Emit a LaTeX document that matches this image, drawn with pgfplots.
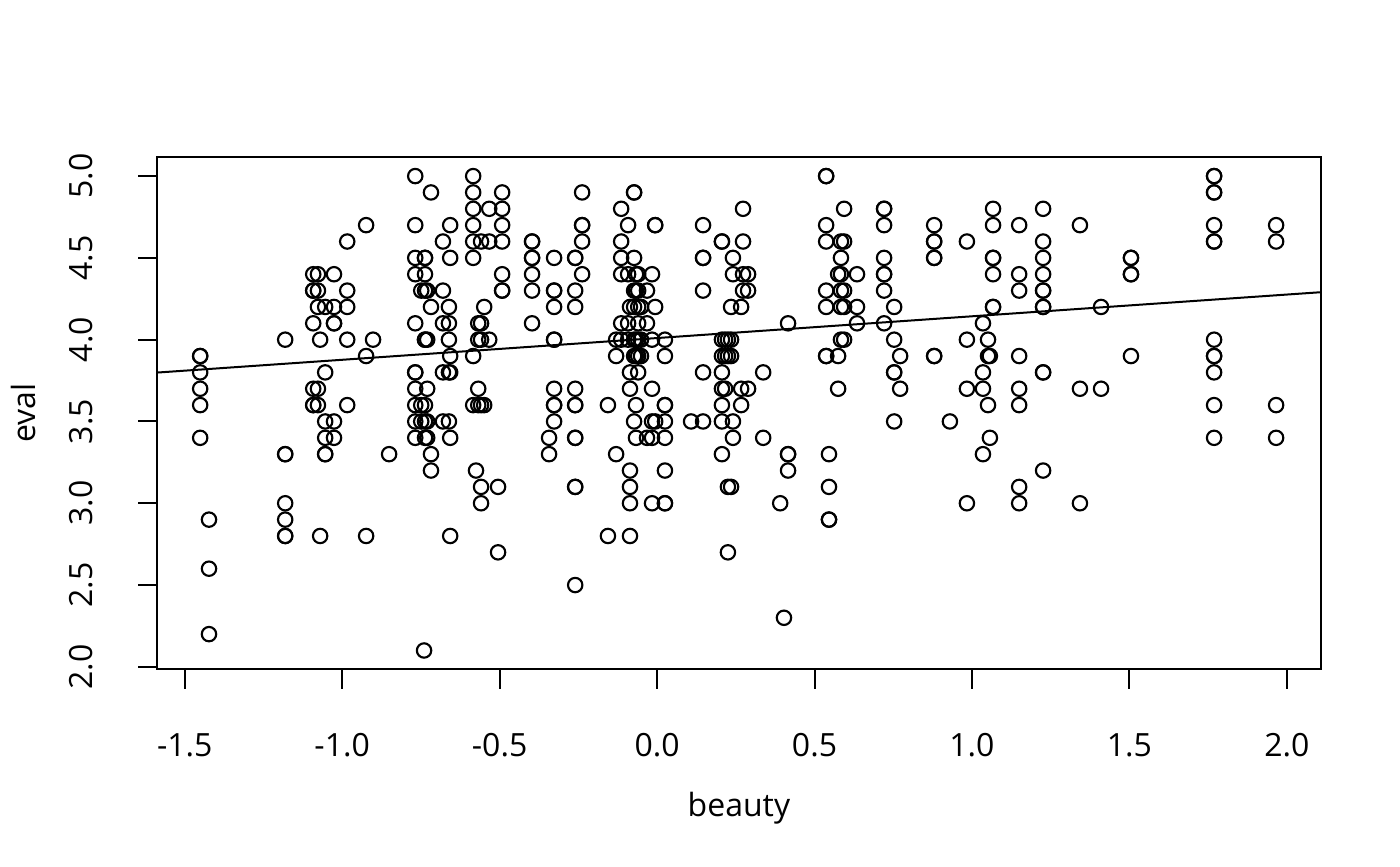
\documentclass[border=0pt]{standalone}
\usepackage{fontspec}
\setmainfont{Open Sans}
\usepackage{pgfplots}
\pgfplotsset{compat=1.18}

\begin{document}
\begin{tikzpicture}
\begin{axis}[
    scale only axis, width=436.1pt, height=192.1pt,
    xmin=-1.587, xmax=2.107, ymin=1.984, ymax=5.116,
    axis line style={line width=0.75pt},
    tick style={line width=0.75pt, black},
    tick align=outside, major tick length=7.2pt,
    xtick pos=bottom, ytick pos=left,
    xtick={-1.5,-1,-0.5,0,0.5,1,1.5,2},
    xticklabels={-1.5,-1.0,-0.5,0.0,0.5,1.0,1.5,2.0},
    ytick={2,2.5,3,3.5,4,4.5,5},
    yticklabels={2.0,2.5,3.0,3.5,4.0,4.5,5.0},
    xticklabel style={anchor=base, yshift=-25.5pt},
    yticklabel style={rotate=90, anchor=base, yshift=17.25pt},
    font=\fontsize{12}{14}\selectfont,
    xlabel={beauty}, ylabel={eval},
    xlabel style={at={(axis description cs:0.5,-0.2873)}, anchor=base},
    ylabel style={at={(axis description cs:-0.1049,0.5)}, anchor=base, rotate=0},
]
\addplot[only marks, mark=o, mark size=2.7pt, line width=0.8pt, black] table {
x y
-1.451 3.9
-1.451 3.9
-1.451 3.8
-1.451 3.7
-1.451 3.6
-1.451 3.4
-1.423 2.9
-1.423 2.6
-1.423 2.2
-1.181 4.0
-1.181 3.3
-1.181 3.3
-1.181 3.0
-1.181 2.9
-1.181 2.8
-1.181 2.8
-1.092 4.4
-1.092 4.3
-1.092 4.3
-1.092 4.1
-1.092 3.7
-1.092 3.6
-1.092 3.6
-1.077 4.4
-1.077 4.3
-1.077 4.2
-1.077 3.7
-1.077 3.6
-1.070 4.0
-1.070 2.8
-1.054 4.2
-1.054 3.8
-1.054 3.5
-1.054 3.4
-1.054 3.3
-1.054 3.3
-1.026 4.4
-1.026 4.2
-1.026 4.1
-1.026 4.1
-1.026 3.5
-1.026 3.4
-0.984 4.6
-0.984 4.3
-0.984 4.2
-0.984 4.0
-0.984 3.6
-0.924 4.7
-0.924 3.9
-0.924 2.8
-0.902 4.0
-0.851 3.3
-0.768 5.0
-0.768 4.7
-0.768 4.5
-0.768 4.4
-0.768 4.1
-0.768 3.8
-0.768 3.8
-0.768 3.7
-0.768 3.6
-0.768 3.5
-0.768 3.4
-0.749 4.3
-0.749 3.6
-0.749 3.5
-0.740 2.1
-0.737 4.5
-0.737 4.5
-0.737 4.4
-0.737 4.3
-0.737 4.0
-0.737 4.0
-0.737 3.6
-0.737 3.5
-0.737 3.4
-0.730 4.3
-0.730 4.0
-0.730 3.7
-0.730 3.5
-0.730 3.4
-0.718 4.9
-0.718 4.2
-0.718 3.3
-0.718 3.2
-0.680 4.6
-0.680 4.3
-0.680 4.1
-0.680 3.8
-0.680 3.5
-0.661 4.2
-0.661 4.1
-0.661 4.0
-0.661 3.8
-0.661 3.5
-0.657 4.7
-0.657 4.5
-0.657 3.9
-0.657 3.8
-0.657 3.4
-0.657 2.8
-0.584 5.0
-0.584 4.9
-0.584 4.8
-0.584 4.7
-0.584 4.6
-0.584 4.5
-0.584 3.9
-0.584 3.6
-0.575 3.2
-0.568 4.1
-0.568 4.0
-0.568 3.7
-0.568 3.6
-0.559 4.6
-0.559 4.1
-0.559 4.0
-0.559 3.6
-0.559 3.1
-0.559 3.0
-0.549 4.2
-0.549 3.6
-0.533 4.8
-0.533 4.6
-0.533 4.0
-0.505 3.1
-0.505 2.7
-0.492 4.9
-0.492 4.8
-0.492 4.7
-0.492 4.6
-0.492 4.4
-0.492 4.3
-0.492 4.3
-0.397 4.6
-0.397 4.6
-0.397 4.5
-0.397 4.5
-0.397 4.4
-0.397 4.3
-0.397 4.1
-0.343 3.4
-0.343 3.3
-0.327 4.5
-0.327 4.3
-0.327 4.3
-0.327 4.2
-0.327 4.0
-0.327 4.0
-0.327 3.7
-0.327 3.6
-0.327 3.6
-0.327 3.5
-0.260 4.5
-0.260 4.5
-0.260 4.3
-0.260 4.2
-0.260 3.7
-0.260 3.6
-0.260 3.6
-0.260 3.4
-0.260 3.4
-0.260 3.1
-0.260 3.1
-0.260 2.5
-0.238 4.9
-0.238 4.7
-0.238 4.7
-0.238 4.6
-0.238 4.4
-0.156 3.6
-0.156 2.8
-0.130 4.0
-0.130 3.9
-0.130 3.3
-0.114 4.8
-0.114 4.6
-0.114 4.5
-0.114 4.4
-0.114 4.1
-0.114 4.0
-0.092 4.7
-0.092 4.4
-0.092 4.1
-0.092 4.0
-0.086 4.2
-0.086 3.8
-0.086 3.7
-0.086 3.2
-0.086 3.1
-0.086 3.0
-0.086 2.8
-0.073 4.9
-0.073 4.9
-0.073 4.5
-0.073 4.3
-0.073 4.2
-0.073 4.0
-0.073 3.9
-0.073 3.5
-0.067 4.4
-0.067 4.3
-0.067 4.0
-0.067 3.9
-0.067 3.6
-0.067 3.4
-0.060 4.4
-0.060 4.3
-0.060 4.2
-0.060 4.1
-0.060 4.0
-0.060 3.9
-0.060 3.8
-0.051 4.2
-0.051 4.0
-0.051 3.9
-0.032 4.3
-0.032 4.1
-0.032 3.4
-0.016 4.4
-0.016 4.0
-0.016 3.7
-0.016 3.5
-0.016 3.4
-0.016 3.0
-0.006 4.7
-0.006 4.7
-0.006 4.2
-0.006 3.5
0.025 4.0
0.025 3.9
0.025 3.6
0.025 3.6
0.025 3.5
0.025 3.4
0.025 3.2
0.025 3.0
0.025 3.0
0.108 3.5
0.146 4.7
0.146 4.5
0.146 4.5
0.146 4.3
0.146 3.8
0.146 3.5
0.206 4.6
0.206 4.6
0.206 4.0
0.206 3.9
0.206 3.8
0.206 3.7
0.206 3.6
0.206 3.5
0.206 3.3
0.216 4.0
0.216 3.9
0.216 3.7
0.225 4.0
0.225 3.9
0.225 3.1
0.225 2.7
0.235 4.2
0.235 4.0
0.235 3.9
0.235 3.1
0.241 4.5
0.241 4.4
0.241 3.5
0.241 3.4
0.267 4.2
0.267 3.7
0.267 3.6
0.273 4.8
0.273 4.6
0.273 4.4
0.273 4.3
0.289 4.4
0.289 4.3
0.289 3.7
0.337 3.8
0.337 3.4
0.391 3.0
0.403 2.3
0.416 4.1
0.416 3.3
0.416 3.3
0.416 3.2
0.537 5.0
0.537 5.0
0.537 4.7
0.537 4.6
0.537 4.3
0.537 4.2
0.537 3.9
0.537 3.9
0.546 3.3
0.546 3.1
0.546 2.9
0.546 2.9
0.575 4.4
0.575 3.9
0.575 3.7
0.584 4.6
0.584 4.5
0.584 4.4
0.584 4.3
0.584 4.2
0.584 4.0
0.594 4.8
0.594 4.6
0.594 4.3
0.594 4.2
0.594 4.0
0.635 4.4
0.635 4.2
0.635 4.1
0.721 4.8
0.721 4.8
0.721 4.7
0.721 4.5
0.721 4.4
0.721 4.4
0.721 4.3
0.721 4.1
0.753 4.2
0.753 4.0
0.753 3.8
0.753 3.8
0.753 3.5
0.772 3.9
0.772 3.7
0.880 4.7
0.880 4.6
0.880 4.6
0.880 4.5
0.880 4.5
0.880 3.9
0.880 3.9
0.930 3.5
0.984 4.6
0.984 4.0
0.984 3.7
0.984 3.0
1.035 4.1
1.035 3.8
1.035 3.7
1.035 3.3
1.051 4.0
1.051 3.9
1.051 3.6
1.057 3.9
1.057 3.4
1.067 4.8
1.067 4.7
1.067 4.5
1.067 4.5
1.067 4.4
1.067 4.2
1.067 4.2
1.150 4.7
1.150 4.4
1.150 4.3
1.150 3.9
1.150 3.7
1.150 3.6
1.150 3.1
1.150 3.0
1.226 4.8
1.226 4.6
1.226 4.5
1.226 4.4
1.226 4.3
1.226 4.3
1.226 4.2
1.226 4.2
1.226 3.8
1.226 3.8
1.226 3.2
1.343 4.7
1.343 3.7
1.343 3.0
1.410 4.2
1.410 3.7
1.505 4.5
1.505 4.5
1.505 4.4
1.505 4.4
1.505 3.9
1.769 5.0
1.769 5.0
1.769 4.9
1.769 4.9
1.769 4.7
1.769 4.6
1.769 4.6
1.769 4.0
1.769 3.9
1.769 3.9
1.769 3.8
1.769 3.6
1.769 3.4
1.966 4.7
1.966 4.6
1.966 3.6
1.966 3.4
};
% fitted line eval = 4.010 + 0.133 beauty, across the plot region
\addplot[black, line width=0.75pt] coordinates {(-1.587,3.799) (2.107,4.290)};
\end{axis}
\path (-59pt,-73.76pt) rectangle (465.9pt,251pt);
\end{tikzpicture}
\end{document}
